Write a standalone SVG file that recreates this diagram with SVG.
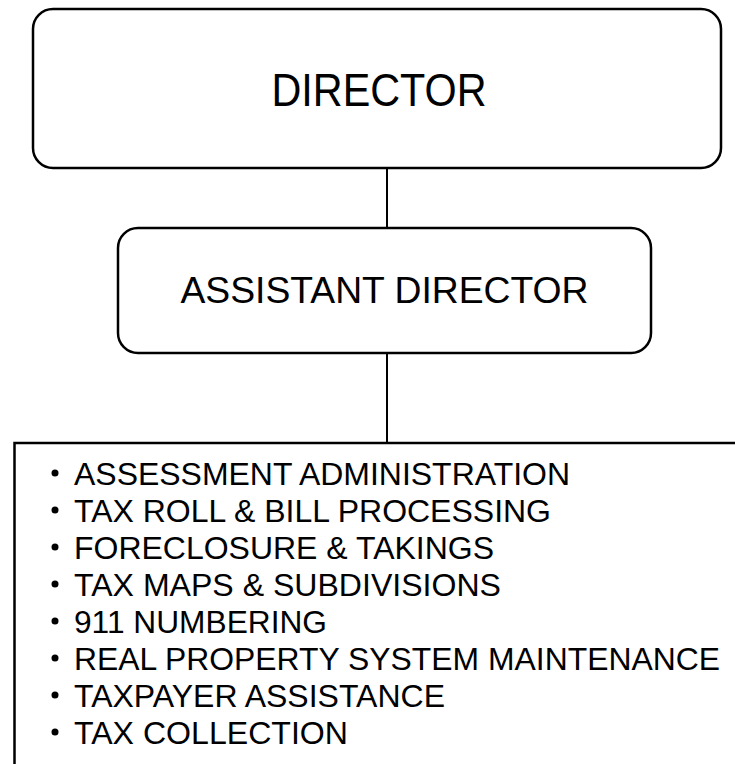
<svg xmlns="http://www.w3.org/2000/svg" width="735" height="764" viewBox="0 0 735 764">
<style>
.box{fill:#fff;stroke:#000;stroke-width:2.5}
.conn{stroke:#000;stroke-width:2;fill:none}
.t{font-family:"Liberation Sans",Arial,sans-serif;fill:#000}
.li{font-size:31.5px}
</style>
<rect x="0" y="0" width="735" height="764" fill="#fff"/>
<g id="connectors">
<line class="conn" x1="387" y1="168" x2="387" y2="228"/>
<line class="conn" x1="387" y1="353" x2="387" y2="443"/>
</g>
<g id="director">
<rect class="box" x="33" y="9" width="688" height="159" rx="20" ry="20"/>
<text class="t" x="379" y="106" font-size="46" text-anchor="middle" textLength="215" lengthAdjust="spacingAndGlyphs">DIRECTOR</text>
</g>
<g id="assistant-director">
<rect class="box" x="118" y="228" width="533" height="125" rx="20" ry="20"/>
<text class="t" x="384.5" y="303" font-size="37" text-anchor="middle" textLength="408" lengthAdjust="spacingAndGlyphs">ASSISTANT DIRECTOR</text>
</g>
<g id="functions">
<path class="box" d="M740 443 H14.5 V770"/>
<g class="t li">
<circle cx="55" cy="473" r="3.5"/><text x="74" y="485" textLength="496" lengthAdjust="spacingAndGlyphs">ASSESSMENT ADMINISTRATION</text>
<circle cx="55" cy="510" r="3.5"/><text x="74" y="522" textLength="477" lengthAdjust="spacingAndGlyphs">TAX ROLL &amp; BILL PROCESSING</text>
<circle cx="55" cy="547" r="3.5"/><text x="74" y="559" textLength="420" lengthAdjust="spacingAndGlyphs">FORECLOSURE &amp; TAKINGS</text>
<circle cx="55" cy="584" r="3.5"/><text x="74" y="596" textLength="427" lengthAdjust="spacingAndGlyphs">TAX MAPS &amp; SUBDIVISIONS</text>
<circle cx="55" cy="621" r="3.5"/><text x="74" y="633" textLength="253" lengthAdjust="spacingAndGlyphs">911 NUMBERING</text>
<circle cx="55" cy="658" r="3.5"/><text x="74" y="670" textLength="646" lengthAdjust="spacingAndGlyphs">REAL PROPERTY SYSTEM MAINTENANCE</text>
<circle cx="55" cy="695" r="3.5"/><text x="74" y="707" textLength="371" lengthAdjust="spacingAndGlyphs">TAXPAYER ASSISTANCE</text>
<circle cx="55" cy="732" r="3.5"/><text x="74" y="744" textLength="274" lengthAdjust="spacingAndGlyphs">TAX COLLECTION</text>
</g>
</g>
</svg>
